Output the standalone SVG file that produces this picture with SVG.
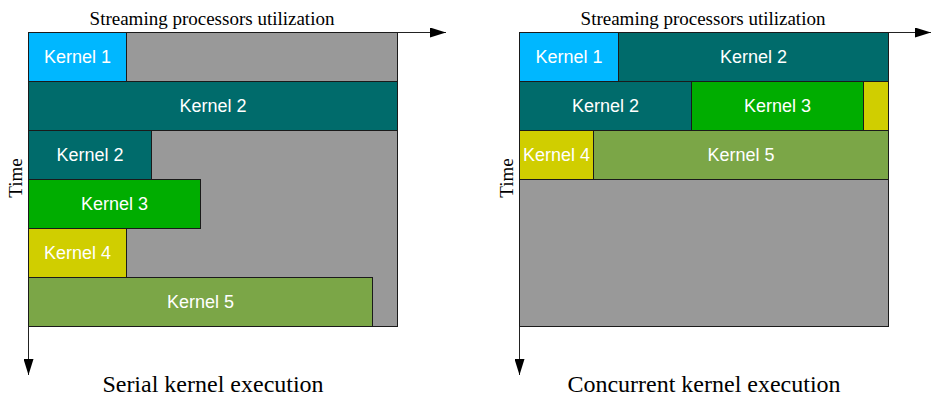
<svg xmlns="http://www.w3.org/2000/svg" width="931" height="396" viewBox="0 0 931 396">
  <style>
    .k { stroke: #1a1a1a; stroke-width: 1; }
    .idle { fill: #999999; }
    .k1 { fill: #00B7FF; }
    .k2 { fill: #006B6B; }
    .k3 { fill: #00AD00; }
    .k4 { fill: #D0CE00; }
    .k5 { fill: #7BA647; }
    .lbl { font-family: "Liberation Sans", Arial, sans-serif; font-size: 18px; fill: #ffffff; text-anchor: middle; }
    .ax { font-family: "Liberation Serif", "Times New Roman", serif; font-size: 19px; fill: #000000; text-anchor: middle; }
    .cap { font-family: "Liberation Serif", "Times New Roman", serif; font-size: 24px; fill: #000000; text-anchor: middle; }
    .axis { stroke: #222222; stroke-width: 1; fill: none; }
  </style>
  <defs>
    <marker id="arrow" viewBox="0 0 16 10" refX="16" refY="5" markerWidth="16" markerHeight="10" markerUnits="userSpaceOnUse" orient="auto">
      <path d="M0,0 L16,5 L0,10 Z" fill="#000000"/>
    </marker>
  </defs>

  <!-- Serial execution panel -->
  <g id="serial">
    <rect id="serial-idle" class="k idle" x="28.5" y="32.5" width="369" height="294"/>
    <g id="serial-k1"><rect class="k k1" x="28.5" y="32.5" width="98" height="49"/><text class="lbl" x="77.5" y="63">Kernel 1</text></g>
    <g id="serial-k2a"><rect class="k k2" x="28.5" y="81.5" width="369" height="49"/><text class="lbl" x="213" y="112">Kernel 2</text></g>
    <g id="serial-k2b"><rect class="k k2" x="28.5" y="130.5" width="123" height="49"/><text class="lbl" x="90" y="161">Kernel 2</text></g>
    <g id="serial-k3"><rect class="k k3" x="28.5" y="179.5" width="172" height="49"/><text class="lbl" x="114.5" y="210">Kernel 3</text></g>
    <g id="serial-k4"><rect class="k k4" x="28.5" y="228.5" width="98" height="49"/><text class="lbl" x="77.5" y="259">Kernel 4</text></g>
    <g id="serial-k5"><rect class="k k5" x="28.5" y="277.5" width="344" height="49"/><text class="lbl" x="200.5" y="308">Kernel 5</text></g>
    <text class="ax" x="212" y="25">Streaming processors utilization</text>
    <text class="ax" transform="translate(21.5,178) rotate(-90)">Time</text>
    <text class="cap" x="213" y="392">Serial kernel execution</text>
  </g>

  <!-- Concurrent execution panel -->
  <g id="concurrent">
    <rect id="conc-idle" class="k idle" x="519.5" y="32.5" width="369" height="294"/>
    <g id="conc-k1"><rect class="k k1" x="519.5" y="32.5" width="99" height="49"/><text class="lbl" x="569" y="63">Kernel 1</text></g>
    <g id="conc-k2a"><rect class="k k2" x="618.5" y="32.5" width="270" height="49"/><text class="lbl" x="753.5" y="63">Kernel 2</text></g>
    <g id="conc-k2b"><rect class="k k2" x="519.5" y="81.5" width="172" height="49"/><text class="lbl" x="605.5" y="112">Kernel 2</text></g>
    <g id="conc-k3"><rect class="k k3" x="691.5" y="81.5" width="172" height="49"/><text class="lbl" x="777.5" y="112">Kernel 3</text></g>
    <g id="conc-k4a"><rect class="k k4" x="863.5" y="81.5" width="25" height="49"/></g>
    <g id="conc-k4b"><rect class="k k4" x="519.5" y="130.5" width="74" height="49"/><text class="lbl" x="556.5" y="161">Kernel 4</text></g>
    <g id="conc-k5"><rect class="k k5" x="593.5" y="130.5" width="295" height="49"/><text class="lbl" x="741" y="161">Kernel 5</text></g>
    <text class="ax" x="703" y="25">Streaming processors utilization</text>
    <text class="ax" transform="translate(513,178) rotate(-90)">Time</text>
    <text class="cap" x="704" y="392">Concurrent kernel execution</text>
  </g>

  <!-- Axes -->
  <g id="axes">
    <line class="axis" x1="397.5" y1="32.5" x2="446" y2="32.5" marker-end="url(#arrow)"/>
    <line class="axis" x1="28.5" y1="326.5" x2="28.5" y2="375" marker-end="url(#arrow)"/>
    <line class="axis" x1="888.5" y1="32.5" x2="931" y2="32.5" marker-end="url(#arrow)"/>
    <line class="axis" x1="519.5" y1="326.5" x2="519.5" y2="375" marker-end="url(#arrow)"/>
  </g>
</svg>
